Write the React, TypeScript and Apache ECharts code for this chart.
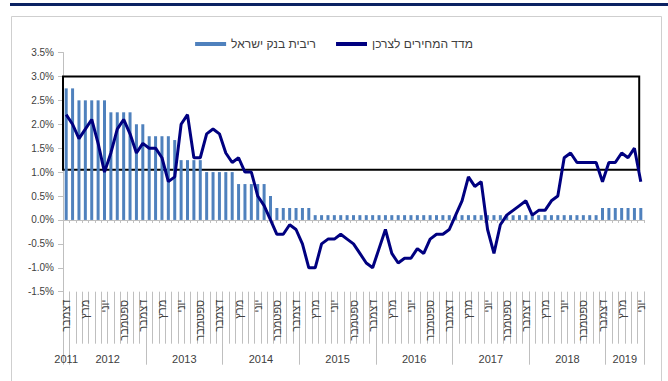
import React, { useEffect, useRef } from "react";
import * as echarts from "echarts";

// Month names shown on the axis (every third month)
const monthNames = ["ינואר", "פברואר", "מרץ", "אפריל", "מאי", "יוני", "יולי", "אוגוסט", "ספטמבר", "אוקטובר", "נובמבר", "דצמבר"];
const years = [2011, 2012, 2013, 2014, 2015, 2016, 2017, 2018, 2019];
const monthsPerYear = [1, 12, 12, 12, 12, 12, 12, 12, 6];
const firstMonthIndex = 11; // December 2011

// Bank of Israel interest rate (%), Dec 2011 – Jun 2019
const boiRate = [
  2.75, 2.75, 2.5, 2.5, 2.5, 2.5, 2.5, 2.25, 2.25, 2.25, 2.25, 2.0, 2.0,
  1.75, 1.75, 1.75, 1.75, 1.67, 1.25, 1.25, 1.25, 1.25, 1.0, 1.0, 1.0, 1.0, 1.0,
  0.75, 0.75, 0.75, 0.75, 0.75, 0.5, 0.25, 0.25, 0.25, 0.25, 0.25, 0.25,
  0.1, 0.1, 0.1, 0.1, 0.1, 0.1, 0.1, 0.1, 0.1, 0.1, 0.1, 0.1,
  0.1, 0.1, 0.1, 0.1, 0.1, 0.1, 0.1, 0.1, 0.1, 0.1, 0.1, 0.1,
  0.1, 0.1, 0.1, 0.1, 0.1, 0.1, 0.1, 0.1, 0.1, 0.1, 0.1, 0.1,
  0.1, 0.1, 0.1, 0.1, 0.1, 0.1, 0.1, 0.1, 0.1,
  0.25, 0.25, 0.25, 0.25, 0.25, 0.25, 0.25,
];

// Consumer price index, annual change (%)
const cpi = [
  2.2, 2.0, 1.7, 1.9, 2.1, 1.6, 1.0, 1.4, 1.9, 2.1, 1.8, 1.4, 1.6,
  1.5, 1.5, 1.3, 0.8, 0.9, 2.0, 2.2, 1.3, 1.3, 1.8, 1.9, 1.8,
  1.4, 1.2, 1.3, 1.0, 1.0, 0.5, 0.3, 0.0, -0.3, -0.3, -0.1, -0.2,
  -0.5, -1.0, -1.0, -0.5, -0.4, -0.4, -0.3, -0.4, -0.5, -0.7, -0.9, -1.0,
  -0.6, -0.2, -0.7, -0.9, -0.8, -0.8, -0.6, -0.7, -0.4, -0.3, -0.3, -0.2,
  0.1, 0.4, 0.9, 0.7, 0.8, -0.2, -0.7, -0.1, 0.1, 0.2, 0.3, 0.4,
  0.1, 0.2, 0.2, 0.4, 0.5, 1.3, 1.4, 1.2, 1.2, 1.2, 1.2, 0.8,
  1.2, 1.2, 1.4, 1.3, 1.5, 0.8,
];

// Target range box (%), and its horizontal extent in months from the start
const targetRange = [1.05, 3.0];
const targetSpan = [0, 90.25];

const yTicks = { min: -1.5, max: 3.5, interval: 0.5 };

const categories: string[] = cpi.map((_, i) => {
  const m = (firstMonthIndex + i) % 12;
  const y = 2011 + Math.floor((firstMonthIndex + i) / 12);
  return monthNames[m] + " " + y;
});

const yearBounds: number[] = [0];
monthsPerYear.forEach((n) => yearBounds.push(yearBounds[yearBounds.length - 1] + n));
const yearCenters = monthsPerYear.map((n, i) => yearBounds[i] + n / 2);

const FONT = "'Liberation Sans', 'DejaVu Sans', Arial, sans-serif";
const GREY = "#bfbfbf";
const TXT = "#404040";

export default function App() {
  const ref = useRef<HTMLDivElement>(null);
  useEffect(() => {
    if (!ref.current) return;
    const chart = echarts.init(ref.current, null, { renderer: "svg" });
    const total = categories.length;
    chart.setOption({
      animation: false,
      backgroundColor: "#ffffff",
      textStyle: { fontFamily: FONT },
      graphic: [
        { type: "rect", shape: { x: 10, y: 3, width: 658, height: 3 }, style: { fill: "#0b2262" }, silent: true },
        { type: "rect", shape: { x: 11.5, y: 16.5, width: 650, height: 420 }, style: { fill: "none", stroke: "#cfcfcf", lineWidth: 1 }, silent: true, z: -10 },
      ],
      legend: {
        top: 33,
        left: "center",
        data: [
          { name: "ריבית בנק ישראל", icon: "rect" },
          { name: "מדד המחירים לצרכן", icon: "rect", itemStyle: { color: "#000080" } },
        ],
        itemWidth: 31,
        itemHeight: 4,
        itemGap: 20,
        textStyle: { fontFamily: FONT, fontSize: 12, color: TXT },
      },
      grid: { left: 63, right: 24, top: 52.5, bottom: 89.3, containLabel: false },
      xAxis: [
        {
          type: "category",
          data: categories,
          position: "bottom",
          axisLine: { show: true, onZero: true, lineStyle: { color: GREY, width: 1 } },
          axisTick: { show: true, interval: 0, length: 3, lineStyle: { color: GREY } },
          axisLabel: { show: false },
          splitLine: { show: false },
        },
        {
          type: "category",
          data: categories,
          position: "bottom",
          axisLine: { show: false, onZero: false },
          axisTick: { show: true, interval: 0, length: 52, lineStyle: { color: GREY } },
          axisLabel: {
            show: true,
            interval: (index: number) => index % 3 === 0,
            rotate: 90,
            margin: 8,
            fontSize: 11,
            fontFamily: FONT,
            color: TXT,
            formatter: (v: string) => v.split(" ")[0],
          },
          splitLine: { show: false },
        },
        {
          type: "value",
          min: 0,
          max: total,
          position: "bottom",
          axisLine: { show: false, onZero: false },
          axisTick: { show: true, customValues: yearBounds, length: 73, lineStyle: { color: GREY } },
          axisLabel: {
            show: true,
            customValues: yearCenters,
            margin: 62,
            fontSize: 11,
            fontFamily: FONT,
            color: TXT,
            formatter: (v: number) => {
              const k = yearCenters.indexOf(v);
              return k >= 0 ? String(years[k]) : "";
            },
          },
          splitLine: { show: false },
        },
      ],
      yAxis: {
        type: "value",
        min: yTicks.min,
        max: yTicks.max,
        interval: yTicks.interval,
        axisLine: { show: true, lineStyle: { color: GREY } },
        axisTick: { show: true, length: 5, lineStyle: { color: GREY } },
        axisLabel: {
          margin: 9,
          fontSize: 10,
          fontFamily: FONT,
          color: TXT,
          formatter: (v: number) => v.toFixed(1) + "%",
        },
        splitLine: { show: false },
      },
      series: [
        {
          name: "ריבית בנק ישראל",
          type: "bar",
          xAxisIndex: 0,
          data: boiRate,
          barWidth: 3,
          itemStyle: { color: "#4f81bd" },
          z: 2,
        },
        {
          name: "target",
          type: "line",
          xAxisIndex: 2,
          data: [],
          silent: true,
          markArea: {
            silent: true,
            itemStyle: { color: "rgba(0,0,0,0)", borderColor: "#000000", borderWidth: 2 },
            data: [[
              { xAxis: targetSpan[0], yAxis: targetRange[1] },
              { xAxis: targetSpan[1], yAxis: targetRange[0] },
            ]],
          },
          z: 3,
        },
        {
          name: "מדד המחירים לצרכן",
          type: "line",
          xAxisIndex: 0,
          data: cpi,
          symbol: "none",
          lineStyle: { color: "#000080", width: 3 },
          itemStyle: { color: "#000080" },
          z: 5,
        },
      ],
    });
    return () => chart.dispose();
  }, []);
  return <div ref={ref} style={{ position: "fixed", left: 0, top: 0, width: 668, height: 381 }} />;
}
